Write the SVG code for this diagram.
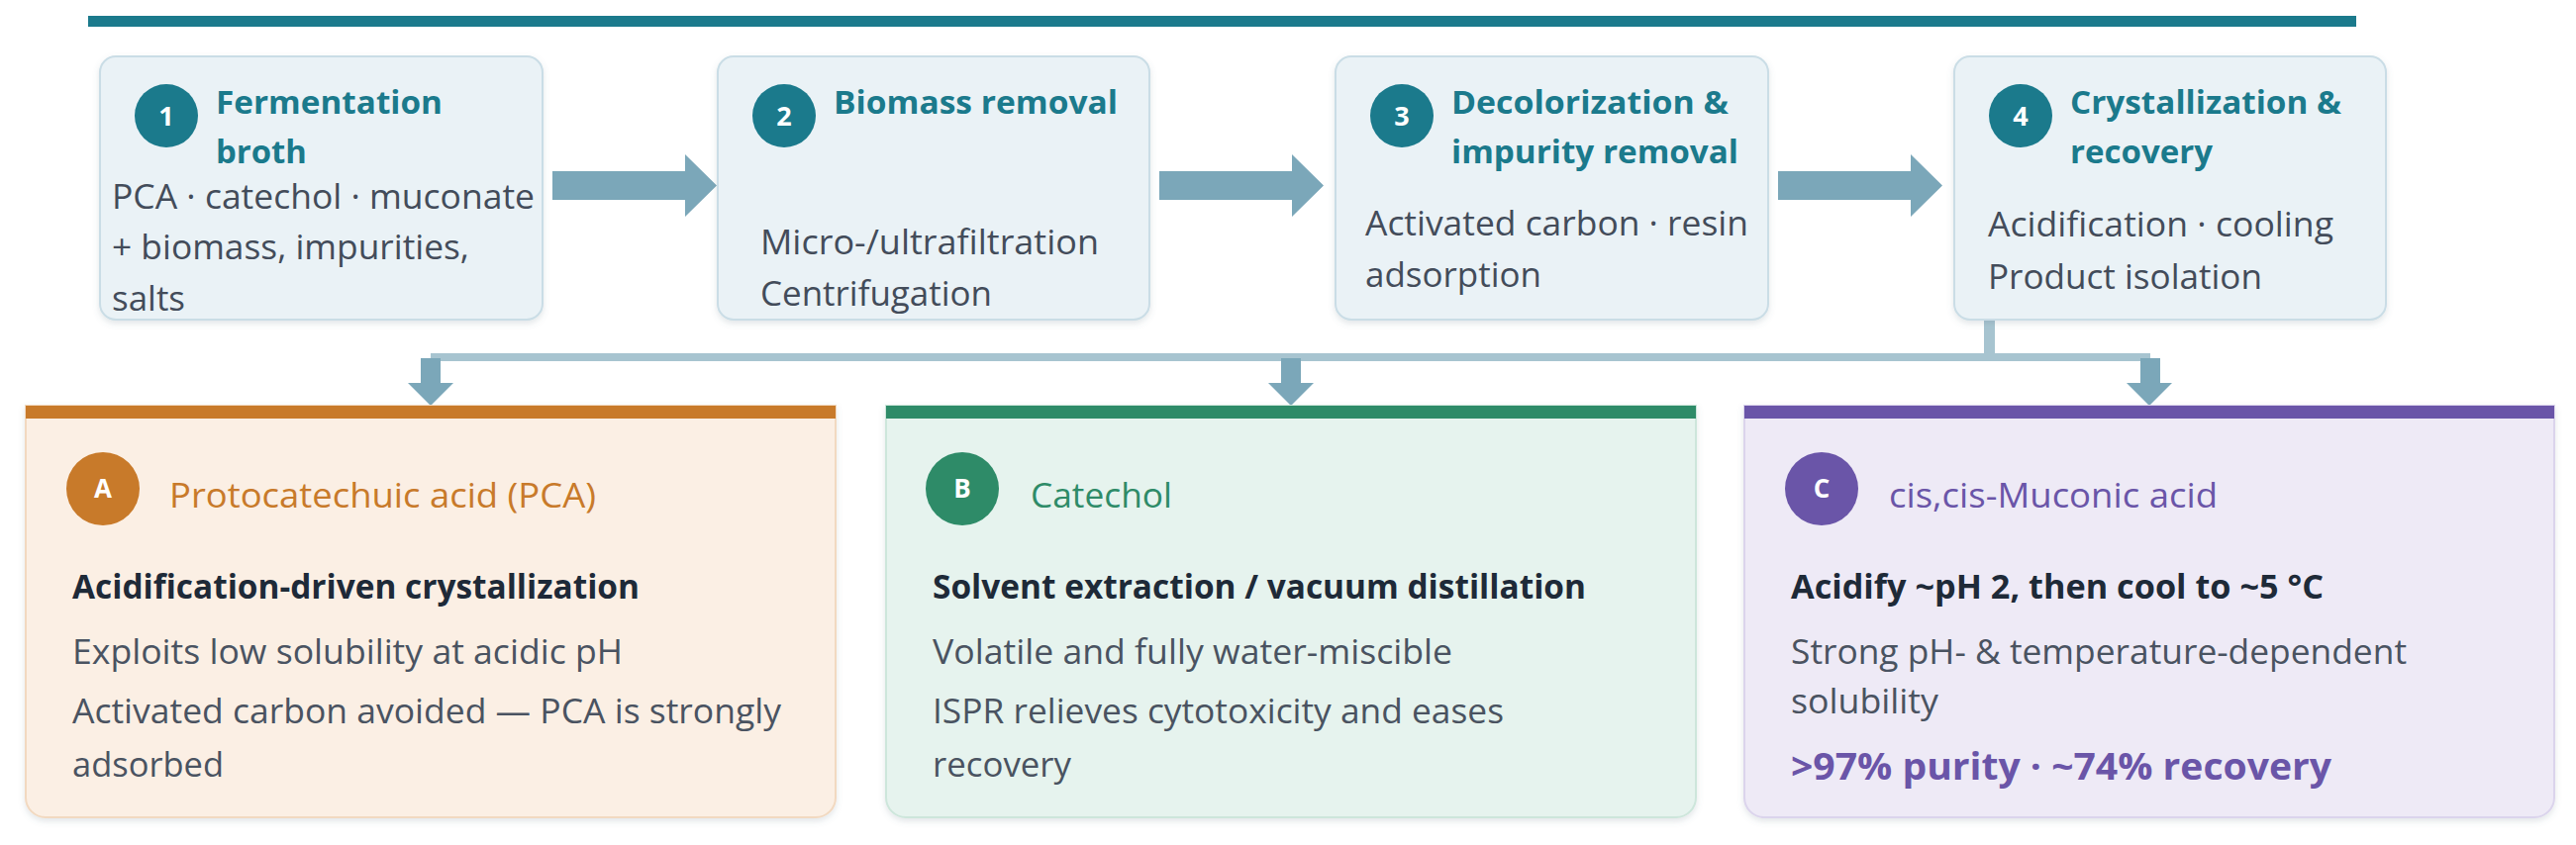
<svg xmlns="http://www.w3.org/2000/svg" width="2602" height="854" viewBox="0 0 2602 854">
<defs>
<filter id="sh" x="-5%" y="-5%" width="110%" height="115%">
<feDropShadow dx="0" dy="3" stdDeviation="3" flood-color="#5a7480" flood-opacity="0.18"/>
</filter>
<style>
text{font-family:"Open Sans","Noto Sans","Liberation Sans",sans-serif}
.step{fill:#EAF2F6;stroke:#CADDE6;stroke-width:2}
.num{fill:#1B7A8C}
.numt{fill:#fff;font-weight:700;font-size:27px;text-anchor:middle}
.st{fill:#1B7A8C;font-weight:700;font-size:33px}
.body{fill:#434C5A;font-size:34px}
.arrow{fill:#7BA7B9}
.line{fill:#A7C4D0}
.lt{fill:#fff;font-weight:700;font-size:26px;text-anchor:middle}
.pt{font-size:35px}
.hd{fill:#1E2A38;font-weight:700;font-size:33.5px}
.pb{fill:#4A5361;font-size:34px}
</style>
</defs>
<rect x="89" y="16" width="2291" height="11" fill="#1B7A8C"/>
<g id="connectors">
<path class="arrow" d="M558,173 H692 V156 L724,187.5 L692,219 V202 H558 Z"/>
<path class="arrow" d="M1171,173 H1305 V156 L1337,187.5 L1305,219 V202 H1171 Z"/>
<path class="arrow" d="M1796,173 H1930 V156 L1962,187.5 L1930,219 V202 H1796 Z"/>
<rect class="line" x="2004" y="323" width="11" height="38"/>
<rect class="line" x="435" y="357" width="1737" height="8"/>
<path class="arrow" d="M425,362 H445 V387 H458 L435,410 L412,387 H425 Z"/>
<path class="arrow" d="M1294,362 H1314 V387 H1327 L1304,410 L1281,387 H1294 Z"/>
<path class="arrow" d="M2162,362 H2182 V387 H2194 L2171,410 L2148,387 H2162 Z"/>
</g>
<g id="step1">
<rect class="step" x="101" y="57" width="447" height="266" rx="16" filter="url(#sh)"/>
<circle class="num" cx="168" cy="117" r="32"/>
<text class="numt" x="168" y="127">1</text>
<text class="st" x="218" y="115" textLength="229" lengthAdjust="spacingAndGlyphs">Fermentation</text>
<text class="st" x="218" y="165" textLength="92" lengthAdjust="spacingAndGlyphs">broth</text>
<text class="body" x="113" y="211" textLength="427" lengthAdjust="spacingAndGlyphs">PCA · catechol · muconate</text>
<text class="body" x="113" y="262" textLength="361" lengthAdjust="spacingAndGlyphs">+ biomass, impurities,</text>
<text class="body" x="113" y="314" textLength="74" lengthAdjust="spacingAndGlyphs">salts</text>
</g>
<g id="step2">
<rect class="step" x="725" y="57" width="436" height="266" rx="16" filter="url(#sh)"/>
<circle class="num" cx="792" cy="117" r="32"/>
<text class="numt" x="792" y="127">2</text>
<text class="st" x="842" y="115" textLength="287" lengthAdjust="spacingAndGlyphs">Biomass removal</text>
<text class="body" x="768" y="257" textLength="342" lengthAdjust="spacingAndGlyphs">Micro-/ultrafiltration</text>
<text class="body" x="768" y="309" textLength="234" lengthAdjust="spacingAndGlyphs">Centrifugation</text>
</g>
<g id="step3">
<rect class="step" x="1349" y="57" width="437" height="266" rx="16" filter="url(#sh)"/>
<circle class="num" cx="1416" cy="117" r="32"/>
<text class="numt" x="1416" y="127">3</text>
<text class="st" x="1466" y="115" textLength="280" lengthAdjust="spacingAndGlyphs">Decolorization &amp;</text>
<text class="st" x="1466" y="165" textLength="290" lengthAdjust="spacingAndGlyphs">impurity removal</text>
<text class="body" x="1379" y="238" textLength="387" lengthAdjust="spacingAndGlyphs">Activated carbon · resin</text>
<text class="body" x="1379" y="290" textLength="178" lengthAdjust="spacingAndGlyphs">adsorption</text>
</g>
<g id="step4">
<rect class="step" x="1974" y="57" width="436" height="266" rx="16" filter="url(#sh)"/>
<circle class="num" cx="2041" cy="117" r="32"/>
<text class="numt" x="2041" y="127">4</text>
<text class="st" x="2091" y="115" textLength="274" lengthAdjust="spacingAndGlyphs">Crystallization &amp;</text>
<text class="st" x="2091" y="165" textLength="144" lengthAdjust="spacingAndGlyphs">recovery</text>
<text class="body" x="2008" y="239" textLength="349" lengthAdjust="spacingAndGlyphs">Acidification · cooling</text>
<text class="body" x="2008" y="292" textLength="277" lengthAdjust="spacingAndGlyphs">Product isolation</text>
</g>
<g id="productA">
<path d="M26,410 H844 V806 A20,20 0 0 1 824,826 H46 A20,20 0 0 1 26,806 Z" fill="#FBEFE4" stroke="#F2D9C0" stroke-width="2" filter="url(#sh)"/>
<rect x="26" y="410" width="818" height="13" fill="#C87A2A"/>
<circle cx="104" cy="494" r="37" fill="#C87A2A"/>
<text class="lt" x="104" y="503">A</text>
<text class="pt" x="171" y="513" fill="#C87A2A" textLength="431" lengthAdjust="spacingAndGlyphs">Protocatechuic acid (PCA)</text>
<text class="hd" x="73" y="605" textLength="573" lengthAdjust="spacingAndGlyphs">Acidification-driven crystallization</text>
<text class="pb" x="73" y="671" textLength="556" lengthAdjust="spacingAndGlyphs">Exploits low solubility at acidic pH</text>
<text class="pb" x="73" y="731" textLength="716" lengthAdjust="spacingAndGlyphs">Activated carbon avoided — PCA is strongly</text>
<text class="pb" x="73" y="785" textLength="153" lengthAdjust="spacingAndGlyphs">adsorbed</text>
</g>
<g id="productB">
<path d="M895,410 H1713 V806 A20,20 0 0 1 1693,826 H915 A20,20 0 0 1 895,806 Z" fill="#E6F3EE" stroke="#CDE6DB" stroke-width="2" filter="url(#sh)"/>
<rect x="895" y="410" width="818" height="13" fill="#2E8B68"/>
<circle cx="972" cy="494" r="37" fill="#2E8B68"/>
<text class="lt" x="972" y="503">B</text>
<text class="pt" x="1041" y="513" fill="#2E8B68" textLength="143" lengthAdjust="spacingAndGlyphs">Catechol</text>
<text class="hd" x="942" y="605" textLength="660" lengthAdjust="spacingAndGlyphs">Solvent extraction / vacuum distillation</text>
<text class="pb" x="942" y="671" textLength="525" lengthAdjust="spacingAndGlyphs">Volatile and fully water-miscible</text>
<text class="pb" x="942" y="731" textLength="577" lengthAdjust="spacingAndGlyphs">ISPR relieves cytotoxicity and eases</text>
<text class="pb" x="942" y="785" textLength="140" lengthAdjust="spacingAndGlyphs">recovery</text>
</g>
<g id="productC">
<path d="M1762,410 H2580 V806 A20,20 0 0 1 2560,826 H1782 A20,20 0 0 1 1762,806 Z" fill="#EEEAF6" stroke="#DBD4EC" stroke-width="2" filter="url(#sh)"/>
<rect x="1762" y="410" width="818" height="13" fill="#6A55A8"/>
<circle cx="1840" cy="494" r="37" fill="#6A55A8"/>
<text class="lt" x="1840" y="503">C</text>
<text class="pt" x="1908" y="513" fill="#6A55A8" textLength="332" lengthAdjust="spacingAndGlyphs">cis,cis-Muconic acid</text>
<text class="hd" x="1809" y="605" textLength="538" lengthAdjust="spacingAndGlyphs">Acidify ~pH 2, then cool to ~5 °C</text>
<text class="pb" x="1809" y="671" textLength="622" lengthAdjust="spacingAndGlyphs">Strong pH- &amp; temperature-dependent</text>
<text class="pb" x="1809" y="721" textLength="149" lengthAdjust="spacingAndGlyphs">solubility</text>
<text x="1809" y="788" fill="#6A55A8" font-size="37" font-weight="700" textLength="546" lengthAdjust="spacingAndGlyphs">&gt;97% purity · ~74% recovery</text>
</g>
</svg>
